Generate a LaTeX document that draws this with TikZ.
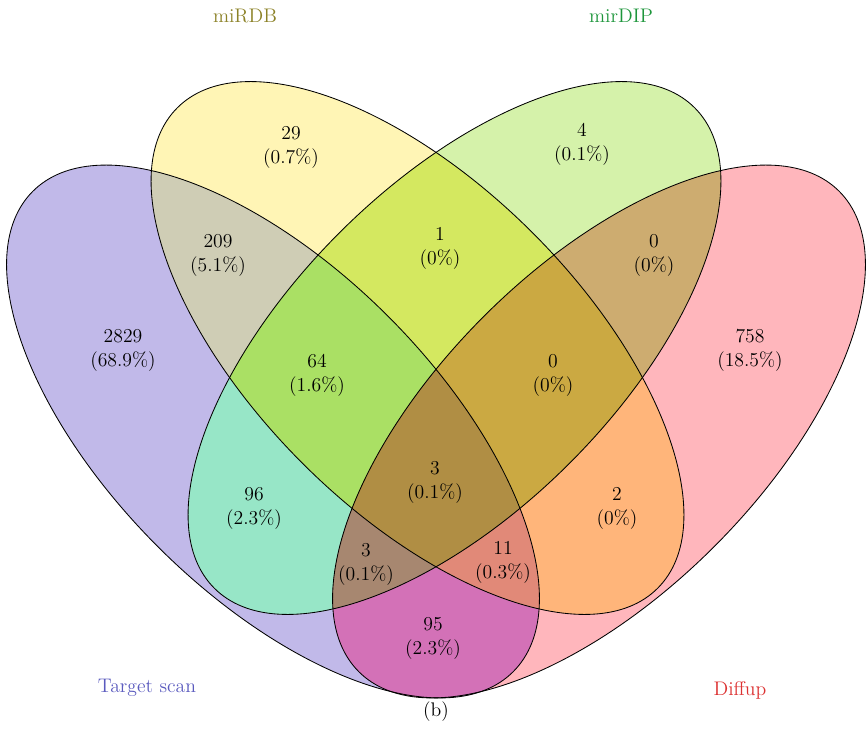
\documentclass[tikz,border=0pt]{standalone}
\usepackage{tikz}
\usepackage{xcolor}
% region fills
\definecolor{tsonly}{RGB}{193,185,233}
\definecolor{rdbonly}{RGB}{255,245,181}
\definecolor{diponly}{RGB}{213,242,170}
\definecolor{difonly}{RGB}{255,182,188}
\definecolor{tsrdb}{RGB}{207,205,181}
\definecolor{tsdip}{RGB}{151,230,199}
\definecolor{tsdif}{RGB}{211,113,183}
\definecolor{rdbdip}{RGB}{212,232,96}
\definecolor{rdbdif}{RGB}{255,181,122}
\definecolor{dipdif}{RGB}{205,172,112}
\definecolor{tsrdbdip}{RGB}{170,224,100}
\definecolor{tsrdbdif}{RGB}{225,137,120}
\definecolor{tsdipdif}{RGB}{167,135,112}
\definecolor{rdbdipdif}{RGB}{203,169,66}
\definecolor{allfour}{RGB}{176,142,68}
% set label colours
\definecolor{tslab}{RGB}{90,90,190}
\definecolor{rdblab}{RGB}{140,130,40}
\definecolor{diplab}{RGB}{30,150,60}
\definecolor{diflab}{RGB}{220,50,50}

\newcommand{\ellts}{(273,307.5) ellipse [x radius=8.49cm, y radius=4.07cm, rotate=-45]}
\newcommand{\ellrdb}{(417.5,391) ellipse [x radius=8.49cm, y radius=4.07cm, rotate=-45]}
\newcommand{\elldip}{(454.5,391) ellipse [x radius=8.49cm, y radius=4.07cm, rotate=45]}
\newcommand{\elldif}{(599,307.5) ellipse [x radius=8.49cm, y radius=4.07cm, rotate=45]}

\begin{document}
\begin{tikzpicture}[
  x=0.025cm, y=0.025cm,
  every node/.style={font=\fontsize{14}{17}\selectfont},
  count/.style={align=center, inner sep=0pt},
  outline/.style={draw=black, line width=0.6pt}
]
\useasboundingbox (0,0) rectangle (866,739);

% one set
\fill[tsonly] \ellts;
\fill[rdbonly] \ellrdb;
\fill[diponly] \elldip;
\fill[difonly] \elldif;

% two sets
\begin{scope}\clip \ellts; \fill[tsrdb] \ellrdb; \end{scope}
\begin{scope}\clip \ellts; \fill[tsdip] \elldip; \end{scope}
\begin{scope}\clip \ellts; \fill[tsdif] \elldif; \end{scope}
\begin{scope}\clip \ellrdb; \fill[rdbdip] \elldip; \end{scope}
\begin{scope}\clip \ellrdb; \fill[rdbdif] \elldif; \end{scope}
\begin{scope}\clip \elldip; \fill[dipdif] \elldif; \end{scope}

% three sets
\begin{scope}\clip \ellts; \clip \ellrdb; \fill[tsrdbdip] \elldip; \end{scope}
\begin{scope}\clip \ellts; \clip \ellrdb; \fill[tsrdbdif] \elldif; \end{scope}
\begin{scope}\clip \ellts; \clip \elldip; \fill[tsdipdif] \elldif; \end{scope}
\begin{scope}\clip \ellrdb; \clip \elldip; \fill[rdbdipdif] \elldif; \end{scope}

% four sets
\begin{scope}\clip \ellts; \clip \ellrdb; \clip \elldip; \fill[allfour] \elldif; \end{scope}

% outlines
\draw[outline] \ellts;
\draw[outline] \ellrdb;
\draw[outline] \elldip;
\draw[outline] \elldif;

% counts
\node[count] (cts) at (123,389) {2829\\(68.9\%)};
\node[count] (crdb) at (291,592) {29\\(0.7\%)};
\node[count] (cdip) at (582,595) {4\\(0.1\%)};
\node[count] (cdif) at (750,389) {758\\(18.5\%)};
\node[count] (ctsrdb) at (218,484) {209\\(5.1\%)};
\node[count] (crdbdip) at (440,491) {1\\(0\%)};
\node[count] (cdipdif) at (654,484) {0\\(0\%)};
\node[count] (ctsrdbdip) at (317,364) {64\\(1.6\%)};
\node[count] (crdbdipdif) at (553,364) {0\\(0\%)};
\node[count] (ctsdip) at (254,231) {96\\(2.3\%)};
\node[count] (call) at (435,257) {3\\(0.1\%)};
\node[count] (crdbdif) at (617,231) {2\\(0\%)};
\node[count] (ctsdipdif) at (366,175) {3\\(0.1\%)};
\node[count] (ctsrdbdif) at (503,177) {11\\(0.3\%)};
\node[count] (ctsdif) at (433,101) {95\\(2.3\%)};

% set names
\node[text=rdblab] (lrdb) at (245,723) {miRDB};
\node[text=diplab] (ldip) at (621,723) {mirDIP};
\node[text=tslab] (lts) at (147,51) {Target scan};
\node[text=diflab] (ldif) at (740,49) {Diffup};
\node (caption) at (436,27) {(b)};

\end{tikzpicture}
\end{document}
